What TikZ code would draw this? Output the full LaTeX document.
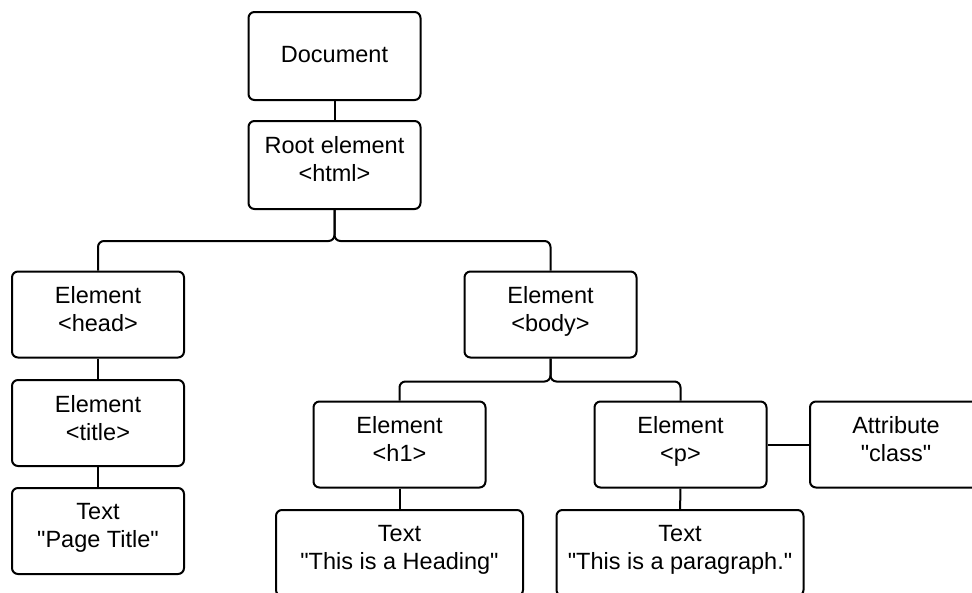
\documentclass[tikz,border=0pt]{standalone}
\usepackage{fontspec}
\setmainfont{Liberation Sans}
\usetikzlibrary{positioning}
\pgfdeclarelayer{edgelayer}
\pgfdeclarelayer{nodelayer}
\pgfsetlayers{edgelayer,nodelayer,main}
\newcommand{\qt}[1]{\textquotedbl#1\textquotedbl}
\tikzstyle{domnode}=[rectangle,rounded corners=6pt,fill=white,draw=black,line width=2pt,minimum width=172pt,minimum height=86pt,align=center,text depth=11pt,font=\fontsize{23.5}{28}\selectfont]
\tikzstyle{textnode}=[style=domnode,minimum width=247pt]
\tikzstyle{tie}=[line width=2pt]
\tikzstyle{link}=[tie,rounded corners=6pt]

\begin{document}
\begin{tikzpicture}[x=1pt,y=-1pt,line width=2pt]
	\useasboundingbox (0,0) rectangle (972,592);
	\clip (0,0) rectangle (972,592);
	\begin{pgfonlayer}{nodelayer}
		\node [style=domnode,minimum height=88pt,text depth=4pt] (Doc) at (334.5,56) {Document};
		\node [style=domnode,minimum height=88pt,text depth=13pt] (Root) at (334.5,165) {Root element\\<html>};
		\node [style=domnode] (Head) at (98,314.5) {Element\\<head>};
		\node [style=domnode] (Body) at (550.5,314.5) {Element\\<body>};
		\node [style=domnode] (Title) at (98,423) {Element\\<title>};
		\node [style=domnode] (TitleText) at (98,531) {Text\\\qt{Page Title}};
		\node [style=domnode] (Hone) at (399.5,444.5) {Element\\<h1>};
		\node [style=domnode] (Para) at (680.5,444.5) {Element\\<p>};
		\node [style=domnode] (Attr) at (896,444.5) {Attribute\\\qt{class}};
		\node [style=textnode] (HoneText) at (399.5,553) {Text\\\qt{This is a Heading}};
		\node [style=textnode] (ParaText) at (680,553) {Text\\\qt{This is a paragraph.}};
	\end{pgfonlayer}
	\begin{pgfonlayer}{edgelayer}
		\draw [style=tie] (Doc) to (Root);
		\draw [style=link] (Root.south) -- ++(0,31) -| (Head.north);
		\draw [style=link] (Root.south) -- ++(0,31) -| (Body.north);
		\draw [style=tie] (Head) to (Title);
		\draw [style=tie] (Title) to (TitleText);
		\draw [style=link] (Body.south) -- ++(0,23) -| (Hone.north);
		\draw [style=link] (Body.south) -- ++(0,23) -| (Para.north);
		\draw [style=tie] (Hone) to (HoneText);
		\draw [style=tie] (Para) to (ParaText);
		\draw [style=tie] (Para) to (Attr);
	\end{pgfonlayer}
\end{tikzpicture}
\end{document}
